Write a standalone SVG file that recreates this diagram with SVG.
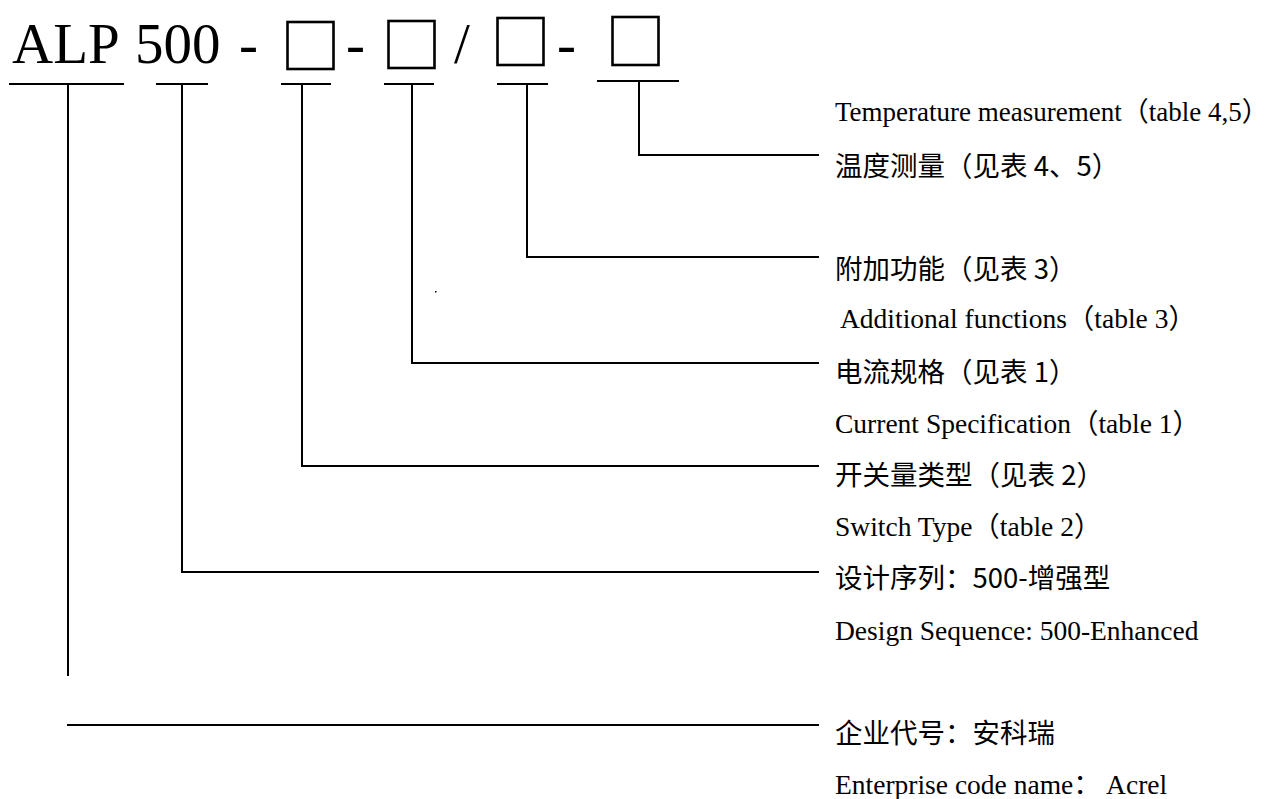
<svg xmlns="http://www.w3.org/2000/svg" width="1270" height="799" viewBox="0 0 1270 799">
<style>
.bg{fill:#ffffff}
.ln{stroke:#000;stroke-width:2;fill:none;stroke-linecap:square}
.box{stroke:#000;stroke-width:2.6;fill:#fff}
.title{font-family:"Liberation Serif","Times New Roman",serif;font-size:57px;fill:#000}
.cn{font-family:"Noto Sans CJK SC","Noto Sans",sans-serif;font-size:27.5px;fill:#000}
.en{font-family:"Liberation Serif","Noto Sans CJK SC",serif;font-size:27.5px;fill:#000}
.en-s{font-size:27px}
</style>
<rect class="bg" x="0" y="0" width="1270" height="799"/>
<g id="title">
  <text class="title" x="12" y="63">ALP</text>
  <text class="title" x="135" y="63">500</text>
  <text class="title" x="239" y="63">-</text>
  <text class="title" x="346" y="63">-</text>
  <text class="title" x="454" y="63">/</text>
  <text class="title" x="557" y="63">-</text>
</g>
<g id="box1"><rect class="box" x="287.5" y="22" width="46" height="47"/></g>
<g id="box2"><rect class="box" x="388.5" y="21" width="46" height="47"/></g>
<g id="box3"><rect class="box" x="497.5" y="18" width="46" height="47"/></g>
<g id="box4"><rect class="box" x="612.5" y="17" width="46" height="48"/></g>
<g id="connectors">
  <line class="ln" x1="10" y1="84" x2="123" y2="84"/>
  <line class="ln" x1="157" y1="84" x2="207" y2="84"/>
  <line class="ln" x1="282" y1="84" x2="330" y2="84"/>
  <line class="ln" x1="385" y1="84" x2="433" y2="84"/>
  <line class="ln" x1="498" y1="84" x2="547" y2="84"/>
  <line class="ln" x1="598" y1="81" x2="678" y2="81"/>
  <polyline class="ln" points="639,81 639,155 818,155"/>
  <polyline class="ln" points="527,84 527,257 818,257"/>
  <polyline class="ln" points="412,84 412,363 818,363"/>
  <polyline class="ln" points="302,84 302,466 818,466"/>
  <polyline class="ln" points="182,84 182,572 818,572"/>
  <line class="ln" x1="68" y1="84" x2="68" y2="675"/>
  <line class="ln" x1="68" y1="725" x2="818" y2="725"/>
  <rect x="435" y="291" width="1.5" height="1.5" fill="#000"/>
</g>
<g id="label-temperature">
  <text class="en en-s" x="835" y="121">Temperature measurement（table 4,5）</text>
  <text class="cn" x="835" y="176">温度测量（见表 4、5）</text>
</g>
<g id="label-additional">
  <text class="cn" x="835" y="279">附加功能（见表 3）</text>
  <text class="en" x="840" y="328">Additional functions（table 3）</text>
</g>
<g id="label-current">
  <text class="cn" x="835" y="382">电流规格（见表 1）</text>
  <text class="en" x="835" y="433">Current Specification（table 1）</text>
</g>
<g id="label-switch">
  <text class="cn" x="835" y="485">开关量类型（见表 2）</text>
  <text class="en" x="835" y="536">Switch Type（table 2）</text>
</g>
<g id="label-design">
  <text class="cn" x="835" y="588">设计序列：500-增强型</text>
  <text class="en" x="835" y="639.5">Design Sequence: 500-Enhanced</text>
</g>
<g id="label-enterprise">
  <text class="cn" x="835" y="742.5">企业代号：安科瑞</text>
  <text class="en" x="835" y="794">Enterprise code name： Acrel</text>
</g>
</svg>
